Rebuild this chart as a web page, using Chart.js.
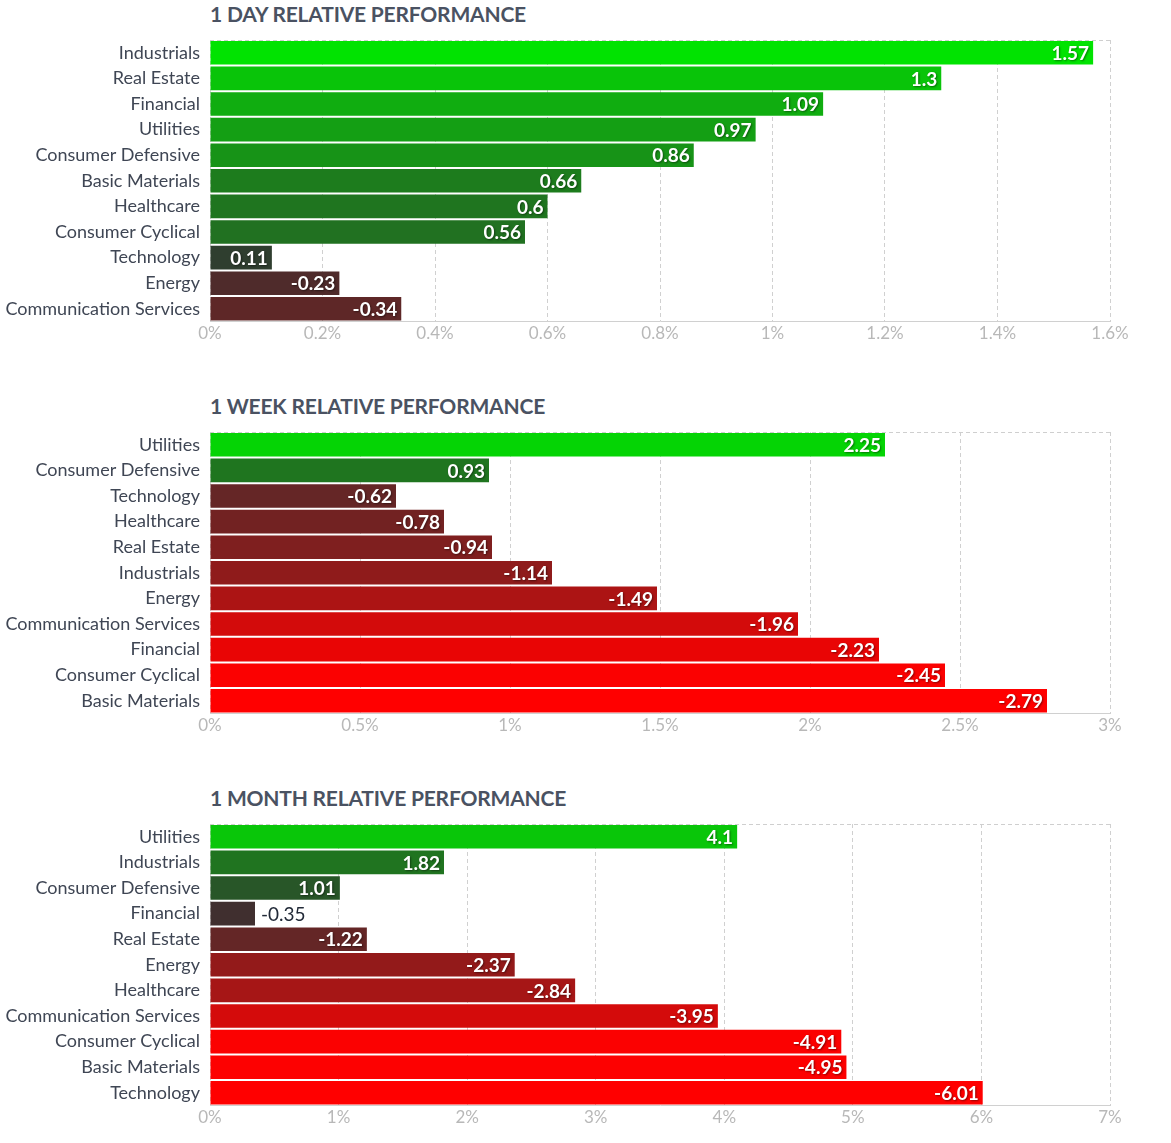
<!DOCTYPE html>
<html>
<head>
<meta charset="utf-8">
<script src="https://cdn.jsdelivr.net/npm/chart.js@4"></script>
<style>
  body { margin: 0; background: #fff; font-family: Lato, sans-serif; }
  .block { position: absolute; left: 0; width: 1171px; height: 392px; }
  .title { position: absolute; left: 210px; top: 1px; font-size: 21px; font-weight: bold; color: #4a5262; letter-spacing: -0.2px; }
  .wrap { position: absolute; left: 0; top: 0; width: 1171px; height: 350px; }
</style>
</head>
<body>
<div class="block" style="top:0">
  <div class="title">1 DAY RELATIVE PERFORMANCE</div>
  <div class="wrap"><canvas id="day"></canvas></div>
</div>
<div class="block" style="top:392px">
  <div class="title">1 WEEK RELATIVE PERFORMANCE</div>
  <div class="wrap"><canvas id="week"></canvas></div>
</div>
<div class="block" style="top:784px">
  <div class="title">1 MONTH RELATIVE PERFORMANCE</div>
  <div class="wrap"><canvas id="month"></canvas></div>
</div>
<script>
const dayLabels = ['Industrials', 'Real Estate', 'Financial', 'Utilities', 'Consumer Defensive', 'Basic Materials', 'Healthcare', 'Consumer Cyclical', 'Technology', 'Energy', 'Communication Services'];
const dayValues = [1.57, 1.3, 1.09, 0.97, 0.86, 0.66, 0.6, 0.56, 0.11, -0.23, -0.34];

const weekLabels = ['Utilities', 'Consumer Defensive', 'Technology', 'Healthcare', 'Real Estate', 'Industrials', 'Energy', 'Communication Services', 'Financial', 'Consumer Cyclical', 'Basic Materials'];
const weekValues = [2.25, 0.93, -0.62, -0.78, -0.94, -1.14, -1.49, -1.96, -2.23, -2.45, -2.79];

const monthLabels = ['Utilities', 'Industrials', 'Consumer Defensive', 'Financial', 'Real Estate', 'Energy', 'Healthcare', 'Communication Services', 'Consumer Cyclical', 'Basic Materials', 'Technology'];
const monthValues = [4.1, 1.82, 1.01, -0.35, -1.22, -2.37, -2.84, -3.95, -4.91, -4.95, -6.01];

// axis max / step and the value at which colour saturates
const dayAxis = { max: 1.6, step: 0.2, full: 1.6 };
const weekAxis = { max: 3, step: 0.5, full: 2.5 };
const monthAxis = { max: 7, step: 1, full: 5 };

function barColor(v, full) {
  const t = Math.min(1, Math.abs(v) / full);
  const base = [50, 50, 50];
  const end = v >= 0 ? [0, 230, 0] : [255, 0, 0];
  const c = base.map((b, i) => Math.round(b + (end[i] - b) * t));
  return `rgb(${c[0]},${c[1]},${c[2]})`;
}

const valueLabels = {
  id: 'valueLabels',
  afterDatasetsDraw(chart) {
    const ctx = chart.ctx;
    const values = chart.config.options.rawValues;
    const meta = chart.getDatasetMeta(0);
    ctx.save();
    ctx.textBaseline = 'middle';
    meta.data.forEach((bar, i) => {
      const txt = String(values[i]);
      ctx.font = 'bold 19px Lato';
      const w = ctx.measureText(txt).width;
      const barW = bar.x - bar.base;
      if (w + 10 < barW) {
        ctx.textAlign = 'right';
        ctx.fillStyle = '#fff';
        ctx.shadowColor = 'rgba(0,0,0,0.45)';
        ctx.shadowBlur = 2;
        ctx.shadowOffsetX = 1;
        ctx.shadowOffsetY = 1;
        ctx.fillText(txt, bar.x - 4, bar.y + 1);
      } else {
        ctx.font = '19px Lato';
        ctx.textAlign = 'left';
        ctx.shadowColor = 'transparent';
        ctx.fillStyle = '#222a38';
        ctx.fillText(txt, bar.x + 6, bar.y + 1);
      }
    });
    ctx.restore();
  }
};

const topBorder = {
  id: 'topBorder',
  afterDraw(chart) {
    const { ctx, chartArea } = chart;
    ctx.save();
    ctx.strokeStyle = '#cfcfcf';
    ctx.lineWidth = 1;
    ctx.setLineDash([4, 3]);
    ctx.beginPath();
    ctx.moveTo(chartArea.left, chartArea.top + 0.5);
    ctx.lineTo(chartArea.right, chartArea.top + 0.5);
    ctx.stroke();
    ctx.restore();
  }
};

function makeChart(id, labels, values, axis) {
  const ctx = document.getElementById(id).getContext('2d');
  return new Chart(ctx, {
    type: 'bar',
    data: {
      labels,
      datasets: [{
        data: values.map(v => Math.abs(v)),
        backgroundColor: values.map(v => barColor(v, axis.full)),
        borderWidth: 0,
        barPercentage: 0.92,
        categoryPercentage: 1
      }]
    },
    options: {
      rawValues: values,
      indexAxis: 'y',
      responsive: true,
      maintainAspectRatio: false,
      animation: false,
      layout: { padding: { top: 40, right: 61, bottom: 4, left: 0 } },
      plugins: { legend: { display: false }, tooltip: { enabled: false } },
      scales: {
        x: {
          min: 0,
          max: axis.max,
          ticks: {
            stepSize: axis.step,
            color: '#b8b8b8',
            font: { family: 'Lato', size: 17 },
            padding: 2,
            callback: v => (Math.round(v * 10) / 10) + '%'
          },
          grid: { color: '#d0d0d0', drawTicks: false, tickBorderDash: [4, 3] },
          border: { display: true, color: '#d0d0d0', dash: [4, 3] }
        },
        y: {
          afterFit: s => { s.width = 210; },
          ticks: {
            color: '#3f4654',
            font: { family: 'Lato', size: 18 },
            padding: 10,
            autoSkip: false
          },
          grid: { display: false, drawTicks: false },
          border: { display: false }
        }
      }
    },
    plugins: [valueLabels, topBorder]
  });
}

Chart.defaults.font.family = 'Lato';
makeChart('day', dayLabels, dayValues, dayAxis);
makeChart('week', weekLabels, weekValues, weekAxis);
makeChart('month', monthLabels, monthValues, monthAxis);
</script>
</body>
</html>
